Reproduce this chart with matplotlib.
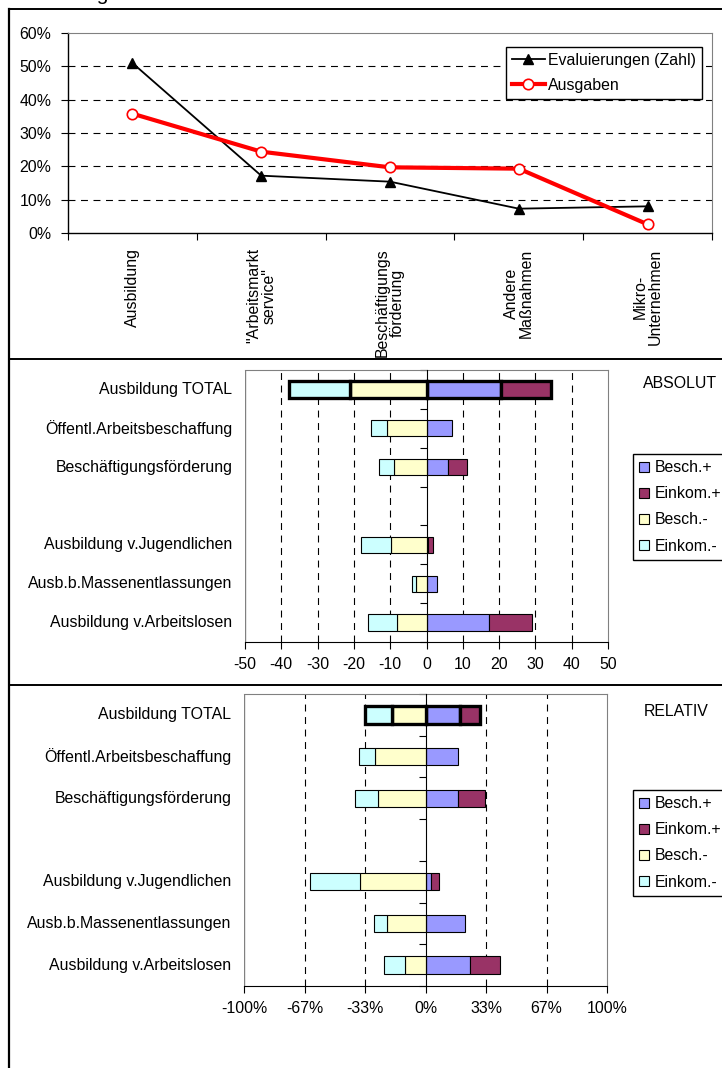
import numpy as np
import matplotlib
matplotlib.use("Agg")
import matplotlib.pyplot as plt
from matplotlib.lines import Line2D
from matplotlib.patches import Patch

plt.rcParams['font.family'] = ['Liberation Sans', 'DejaVu Sans']
plt.rcParams['font.size'] = 11.4
plt.rcParams['lines.scale_dashes'] = False

# --- Daten: Liniendiagramm ---
massnahmen = ['Ausbildung', '"Arbeitsmarkt\nservice"', 'Beschäftigungs\nförderung',
              'Andere\nMaßnahmen', 'Mikro-\nUnternehmen']
evaluierungen = [0.51, 0.172, 0.154, 0.073, 0.080]
ausgaben = [0.358, 0.244, 0.197, 0.193, 0.026]

# --- Daten: Balkendiagramme ---
programme = ['Ausbildung TOTAL', 'Öffentl.Arbeitsbeschaffung', 'Beschäftigungsförderung',
             'Ausbildung v.Jugendlichen', 'Ausb.b.Massenentlassungen', 'Ausbildung v.Arbeitslosen']
slots = [0, 1, 2, 4, 5, 6]  # Zeile 3 bleibt leer

abs_besch_plus = [20.5, 6.9, 6.0, 0.5, 2.9, 17.1]
abs_einkom_plus = [13.7, 0.0, 5.1, 1.4, 0.0, 12.0]
abs_besch_minus = [-21.2, -11.0, -9.0, -9.9, -2.8, -8.0]
abs_einkom_minus = [-16.8, -4.2, -4.1, -8.1, -1.1, -8.2]

rel_besch_plus = [0.19, 0.178, 0.178, 0.031, 0.218, 0.244]
rel_einkom_plus = [0.11, 0.0, 0.15, 0.046, 0.0, 0.169]
rel_besch_minus = [-0.185, -0.277, -0.259, -0.359, -0.212, -0.112]
rel_einkom_minus = [-0.15, -0.092, -0.128, -0.279, -0.072, -0.117]

rel_ticks = [-1, -2 / 3, -1 / 3, 0, 1 / 3, 2 / 3, 1]
rel_ticklabels = ['-100%', '-67%', '-33%', '0%', '33%', '67%', '100%']

serien = ['Besch.+', 'Einkom.+', 'Besch.-', 'Einkom.-']
farben = ['#9999FF', '#993366', '#FFFFCC', '#CCFFFF']

W, H = 722, 1068
fig = plt.figure(figsize=(W / 100, H / 100), dpi=100)


def px_axes(left, top, right, bottom):
    return fig.add_axes([left / W, 1 - bottom / H, (right - left) / W, (bottom - top) / H])


DASH = (0, (5, 4))

# ---------- Panel 1: Linien ----------
ax1 = px_axes(68, 33, 712, 233)
x = np.arange(len(massnahmen))
ax1.plot(x, evaluierungen, color='black', lw=1.3, marker='^', ms=6.5,
         label='Evaluierungen (Zahl)', zorder=3)
ax1.plot(x, ausgaben, color='#FF0000', lw=3.0, marker='o', ms=7.5,
         mfc='white', mec='#FF0000', mew=1.2, label='Ausgaben', zorder=4)
ax1.set_xlim(-0.5, len(massnahmen) - 0.5)
ax1.set_ylim(0, 0.6)
ax1.set_yticks(np.arange(0, 0.61, 0.1))
ax1.set_yticklabels([f'{int(round(v * 100))}%' for v in np.arange(0, 0.61, 0.1)])
for yv in np.arange(0.1, 0.55, 0.1):
    ax1.axhline(yv, color='black', lw=0.8, ls=DASH, zorder=1)
ax1.set_xticks(np.arange(-0.5, len(massnahmen), 1.0))
ax1.set_xticklabels([])
ax1.set_xticks(x, minor=True)
ax1.set_xticklabels(massnahmen, minor=True, rotation=90, va='top', ha='center',
                    linespacing=1.0, multialignment='center')
ax1.tick_params(axis='x', which='minor', length=0, pad=11)
ax1.tick_params(axis='x', which='major', length=5, direction='out')
ax1.tick_params(axis='y', length=5, direction='out', pad=7)
for s in ['top', 'right']:
    ax1.spines[s].set_color('#808080')
ax1.spines['left'].set_linewidth(1.0)
ax1.spines['bottom'].set_linewidth(1.0)
leg1 = ax1.legend(loc='upper right', bbox_to_anchor=((702 - 68) / 644, (233 - 47) / 200),
                  frameon=True, fancybox=False, edgecolor='black', framealpha=1,
                  borderaxespad=0, handlelength=2.1, handletextpad=0.2,
                  borderpad=0.38, labelspacing=0.62)
leg1.get_frame().set_linewidth(1.0)


# ---------- Panels 2 und 3: Balken ----------
def balken(ax, werte, xlim, xticks, xticklabels, grid):
    bp, ep, bm, em = werte
    for i, s in enumerate(slots):
        total = i == 0
        lw = 2.4 if total else 0.8
        segs = [(0, bp[i], farben[0]), (bp[i], ep[i], farben[1]),
                (0, bm[i], farben[2]), (bm[i], em[i], farben[3])]
        for left, width, col in segs:
            if width == 0:
                continue
            ax.barh(s, width, left=left, height=0.42, color=col,
                    edgecolor='black', linewidth=lw, zorder=3)
    ax.set_xlim(*xlim)
    ax.set_ylim(6.5, -0.5)
    ax.set_xticks(xticks)
    ax.set_xticklabels(xticklabels)
    for g in grid:
        ax.axvline(g, color='black', lw=0.8, ls=DASH, zorder=1)
    ax.spines['left'].set_position(('data', 0))
    ax.spines['left'].set_zorder(4)
    ax.set_yticks(np.arange(-0.5, 7, 1.0))
    ax.set_yticklabels([])
    ax.tick_params(axis='y', length=5, direction='out')
    ax.tick_params(axis='x', length=5, direction='out', pad=6)
    for s in ['top', 'right']:
        ax.spines[s].set_color('#808080')
    ax.axvline(xlim[0], color='#808080', lw=1.0, zorder=0)
    trans = ax.get_yaxis_transform()
    for name, s in zip(programme, slots):
        ax.text(-0.035, s, name, transform=trans, ha='right', va='center')


ax2 = px_axes(245, 370, 608, 642)
balken(ax2, (abs_besch_plus, abs_einkom_plus, abs_besch_minus, abs_einkom_minus),
       (-50, 50), np.arange(-50, 51, 10), [str(v) for v in range(-50, 51, 10)],
       [-40, -30, -20, -10, 10, 20, 30, 40])

ax3 = px_axes(244, 694, 607, 986)
balken(ax3, (rel_besch_plus, rel_einkom_plus, rel_besch_minus, rel_einkom_minus),
       (-1, 1), rel_ticks, rel_ticklabels, [-2 / 3, -1 / 3, 1 / 3, 2 / 3])

handles = [Patch(facecolor=c, edgecolor='black', linewidth=0.8) for c in farben]
for top in (454, 790):
    lg = fig.legend(handles, serien, loc='upper left', bbox_to_anchor=(633 / W, 1 - top / H),
                    frameon=True, fancybox=False, edgecolor='black', framealpha=1,
                    borderaxespad=0, handlelength=0.6, handleheight=0.6,
                    handletextpad=0.35, borderpad=0.4, labelspacing=0.7)
    lg.get_frame().set_linewidth(1.0)

fig.text(643 / W, 1 - 384 / H, 'ABSOLUT', ha='left', va='center')
fig.text(644 / W, 1 - 711 / H, 'RELATIV', ha='left', va='center')

# abgeschnittener Titel oben
fig.text(86 / W, 1.0, 'ng', ha='left', va='baseline', fontsize=15)

# Rahmen
fx = 9 / W
fig.add_artist(Line2D([fx, fx], [0, 1 - 9 / H], color='black', lw=1.6))
for yy in (9, 359, 685):
    fig.add_artist(Line2D([fx, 1], [1 - yy / H] * 2, color='black', lw=1.4))

fig.savefig('out.png', dpi=100)
